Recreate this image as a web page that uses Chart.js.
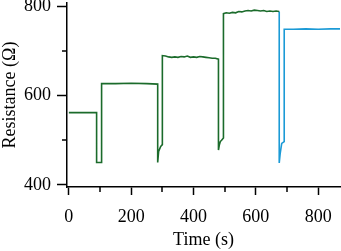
<!DOCTYPE html>
<html>
<head>
<meta charset="utf-8">
<script src="https://cdn.jsdelivr.net/npm/chart.js@4/dist/chart.umd.min.js"></script>
<style>
  body { margin: 0; background: #fff; }
  #wrap { width: 341px; height: 251px; }
</style>
</head>
<body>
<div id="wrap"><canvas id="myChart" width="341" height="251"></canvas></div>
<script>
// 녹색 구간 (0 ~ 675 s)
var greenTime = [0, 89, 89, 105, 105, 150, 200, 250, 285, 285, 288, 294, 297, 300, 300, 310, 320, 330, 340, 350, 360, 370, 380, 390, 400, 410, 420, 430, 440, 450, 460, 470, 480, 480, 483, 486, 490, 496, 496, 505, 515, 525, 535, 545, 555, 565, 575, 585, 595, 605, 615, 625, 635, 645, 655, 665, 675];
var greenRes  = [562, 562, 450, 450, 627, 627, 628, 627, 626, 450, 475, 485, 488, 490, 690, 689, 687, 686, 687, 686, 688, 687, 689, 686, 687, 686, 688, 687, 686, 685, 684, 684, 682, 478, 490, 497, 500, 505, 784, 786, 785, 787, 786, 789, 788, 790, 791, 790, 792, 791, 790, 791, 789, 790, 789, 790, 789];

// 파란색 구간 (675 ~ 870 s)
var blueTime = [675, 675, 678, 683, 691, 691, 720, 760, 800, 840, 870];
var blueRes  = [789, 449, 470, 493, 497, 749, 749, 750, 749, 750, 750];

var xTicks = [0, 200, 400, 600, 800];
var yTicks = [400, 600, 800];

function toPoints(xs, ys) {
    return xs.map(function (x, i) { return { x: x, y: ys[i] }; });
}

// 보조 눈금 (짧은 눈금)
var minorTicks = {
    id: 'minorTicks',
    afterDraw: function (chart) {
        var c = chart.ctx;
        var xs = chart.scales.x, ys = chart.scales.y;
        c.save();
        c.strokeStyle = '#000';
        c.lineWidth = 1.5;
        c.beginPath();
        xs.ticks.forEach(function (t) {
            if (t.value % 200 !== 0) {
                var px = Math.round(xs.getPixelForValue(t.value));
                c.moveTo(px, xs.top);
                c.lineTo(px, xs.top + 5);
            }
        });
        ys.ticks.forEach(function (t) {
            if (t.value % 200 !== 0) {
                var py = Math.round(ys.getPixelForValue(t.value));
                c.moveTo(ys.right, py);
                c.lineTo(ys.right - 5, py);
            }
        });
        c.stroke();
        c.restore();
    }
};

var font = { family: "'Liberation Serif', 'Times New Roman', serif", size: 18 };

var ctx = document.getElementById("myChart").getContext('2d');

var myChart = new Chart(ctx, {
    type: 'line',
    data: {
        datasets: [{
            data: toPoints(greenTime, greenRes),
            borderColor: '#1b6b2b',
            borderWidth: 1.6,
            pointRadius: 0,
            tension: 0
        }, {
            data: toPoints(blueTime, blueRes),
            borderColor: '#1b9ad6',
            borderWidth: 1.6,
            pointRadius: 0,
            tension: 0
        }]
    },
    plugins: [minorTicks],
    options: {
        responsive: false,
        animation: false,
        layout: { padding: { top: 3, right: 1, left: 0, bottom: 0 } },
        plugins: {
            legend: { display: false },
            tooltip: { enabled: false }
        },
        scales: {
            x: {
                type: 'linear',
                min: -6,
                max: 870,
                border: { display: true, color: '#000', width: 1.5 },
                grid: {
                    drawOnChartArea: false,
                    drawTicks: true,
                    tickLength: 8,
                    tickWidth: 1.5,
                    tickColor: function (c) { return xTicks.indexOf(c.tick.value) >= 0 ? '#000' : 'rgba(0,0,0,0)'; }
                },
                ticks: {
                    stepSize: 100,
                    includeBounds: false,
                    maxRotation: 0,
                    autoSkip: false,
                    padding: 11,
                    color: '#000',
                    font: font,
                    callback: function (v) { return xTicks.indexOf(v) >= 0 ? v : ''; }
                },
                title: {
                    display: true,
                    text: 'Time (s)',
                    color: '#000',
                    font: font,
                    padding: { top: 0, bottom: 0 }
                },
                afterFit: function (s) {
                    s.height = 64;
                    s.paddingLeft = 0; s.paddingRight = 0;
                }
            },
            y: {
                type: 'linear',
                min: 395,
                max: 808,
                border: { display: true, color: '#000', width: 1.5 },
                grid: {
                    drawOnChartArea: false,
                    drawTicks: true,
                    tickLength: 10,
                    tickWidth: 1.5,
                    tickColor: function (c) { return yTicks.indexOf(c.tick.value) >= 0 ? '#000' : 'rgba(0,0,0,0)'; }
                },
                ticks: {
                    stepSize: 100,
                    includeBounds: false,
                    autoSkip: false,
                    padding: 6,
                    color: '#000',
                    font: font,
                    callback: function (v) { return yTicks.indexOf(v) >= 0 ? v : ''; }
                },
                title: {
                    display: true,
                    text: 'Resistance (Ω)',
                    color: '#000',
                    font: { family: font.family, size: 18, lineHeight: 1 },
                    padding: { top: 1, bottom: 0 }
                },
                afterFit: function (s) {
                    s.width = 67;
                    s.paddingTop = 0; s.paddingBottom = 0;
                }
            }
        }
    }
});
</script>
</body>
</html>
